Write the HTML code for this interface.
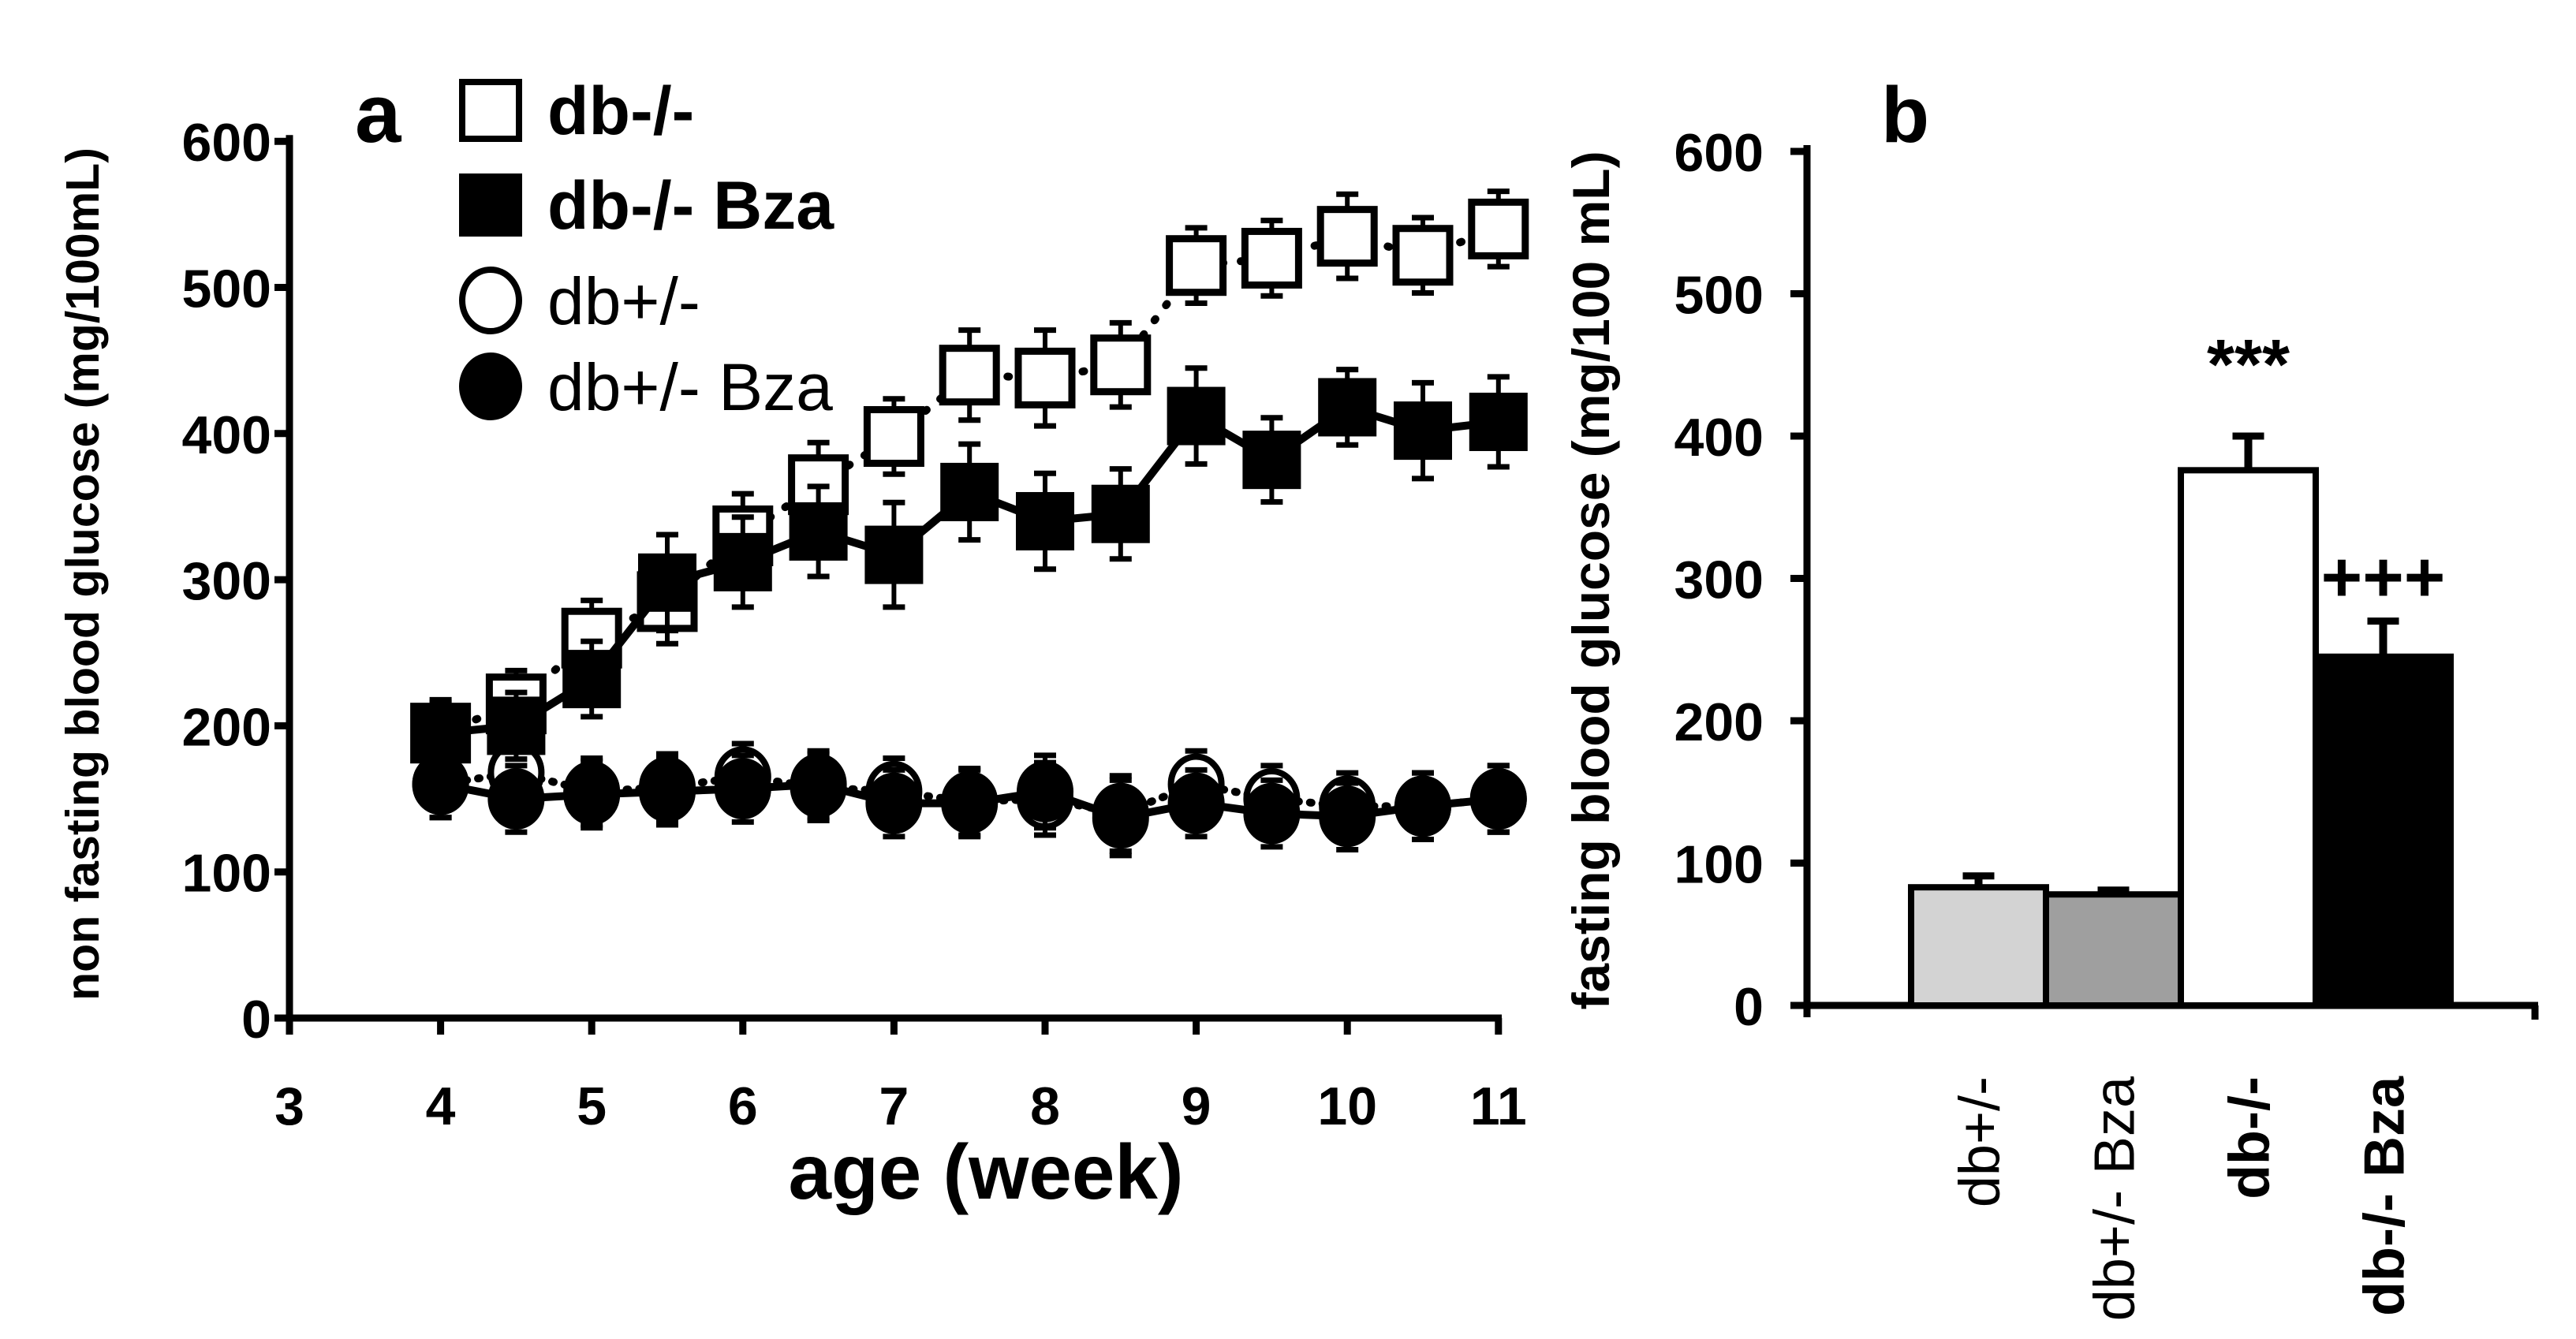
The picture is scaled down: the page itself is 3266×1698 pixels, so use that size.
<!DOCTYPE html>
<html><head><meta charset="utf-8"><style>
html,body{margin:0;padding:0;background:#fff;}
svg{display:block;font-family:"Liberation Sans",Arial,sans-serif;}
</style></head><body>
<svg id="fig" width="3266" height="1698" viewBox="0 0 3266 1698">
<g id="pa"></g>
<g id="pb"></g>
</svg>
<script>
const weeks = [4,4.5,5,5.5,6,6.5,7,7.5,8,8.5,9,9.5,10,10.5,11];
const dbKO = [195,215,260,285,330,365,398,440,438,447,515,520,535,522,540];
const dbKOBza = [195,200,232,298,312,333,317,360,340,345,412,382,418,402,408];
const dbHet = [160,168,155,158,165,158,155,148,150,140,160,150,145,145,150];
const dbHetBza = [160,150,153,155,157,160,147,147,155,137,147,140,138,145,150];
const errKO = [10,12,15,18,18,18,15,20,22,18,15,15,18,15,15];
const errKOBza = [12,12,15,22,20,20,25,22,22,20,22,18,15,22,20];
const errHet = [12,12,12,12,12,12,12,12,14,15,12,12,12,12,12];
const xTicks = [3,4,5,6,7,8,9,10,11];
const yTicks = [0,100,200,300,400,500,600];
const barCats = ["db+/-","db+/- Bza","db-/-","db-/- Bza"];
const barVals = [83,78,376,245];
const barErr = [8,3,24,25];
const barSig = ["","","***","+++"];

const NS="http://www.w3.org/2000/svg";
function mk(parent,tag,attrs){const e=document.createElementNS(NS,tag);for(const k in attrs)e.setAttribute(k,attrs[k]);parent.appendChild(e);return e;}

// Panel a
const pa=document.getElementById('pa');
const ax=v=>367+(v-3)*191.6, ay=v=>1291-v*1.853;
let l=mk(pa,'line',{x1:367,y1:ay(600)-8,x2:367,y2:1295,stroke:'#000','stroke-width':9});


l=mk(pa,'line',{x1:363,y1:1291,x2:1904,y2:1291,stroke:'#000','stroke-width':9});


yTicks.forEach(v=>{
 let tk=mk(pa,'line',{x1:348,y1:ay(v),x2:367,y2:ay(v),stroke:'#000','stroke-width':9});
 
 
 let tx=mk(pa,'text',{x:344,y:ay(v)+25,'text-anchor':'end','font-size':68,'font-weight':'bold'});
 tx.textContent=v;
 
 
});
xTicks.forEach(v=>{
 let tk=mk(pa,'line',{x1:ax(v),y1:1291,x2:ax(v),y2:1312,stroke:'#000','stroke-width':9});
 
 
 let tx=mk(pa,'text',{x:ax(v),y:1426,'text-anchor':'middle','font-size':68,'font-weight':'bold'});
 tx.textContent=v;
 
 
});
function series(vals,errs,filled,shape,dash,name){
 const g=mk(pa,'g',{});
 
 
 const pts=weeks.map((w,i)=>ax(w)+','+ay(vals[i])).join(' ');
 mk(g,'polyline',{points:pts,fill:'none',stroke:'#000','stroke-width':10,'stroke-dasharray':dash,'stroke-linecap':'round'});
 weeks.forEach((w,i)=>{
  const x=ax(w),y=ay(vals[i]),e=errs[i]*1.853;
  mk(g,'line',{x1:x,y1:y-e-20,x2:x,y2:y+e+20,stroke:'#000','stroke-width':6});
  mk(g,'line',{x1:x-14,y1:y-e-20,x2:x+14,y2:y-e-20,stroke:'#000','stroke-width':7});
  mk(g,'line',{x1:x-14,y1:y+e+20,x2:x+14,y2:y+e+20,stroke:'#000','stroke-width':7});
  let m;
  if(shape==='sq') m=mk(g,'rect',{x:x-34,y:y-34,width:68,height:68,fill:filled?'#000':'#fff',stroke:'#000','stroke-width':filled?6:9});
  else m=mk(g,'ellipse',{cx:x,cy:y,rx:32,ry:35,fill:filled?'#000':'#fff',stroke:'#000','stroke-width':8});
  
  
 });
}
series(dbHet,errHet,false,'ci','2 14','series-db-het');
series(dbHetBza,errHet,true,'ci','none','series-db-het-bza');
series(dbKO,errKO,false,'sq','2 22','series-db-ko');
series(dbKOBza,errKOBza,true,'sq','none','series-db-ko-bza');

// legend
const legend=[["db-/-","sq",false,true,140],["db-/- Bza","sq",true,true,260],["db+/-","ci",false,false,381],["db+/- Bza","ci",true,false,490]];
legend.forEach(r=>{
 const g=mk(pa,'g',{});
 
 
 if(r[1]==='sq') mk(g,'rect',{x:586,y:r[4]-36,width:72,height:72,fill:r[2]?'#000':'#fff',stroke:'#000','stroke-width':8});
 else mk(g,'ellipse',{cx:622,cy:r[4],rx:36,ry:39,fill:r[2]?'#000':'#fff',stroke:'#000','stroke-width':8});
 const tt=mk(g,'text',{x:694,y:r[4]+30,'font-size':r[3]?86:84,'font-weight':r[3]?'bold':'normal'});
 tt.textContent=r[0];
});
let t=mk(pa,'text',{x:450,y:180,'font-size':105,'font-weight':'bold'});t.textContent='a';


t=mk(pa,'text',{x:1250,y:1520,'text-anchor':'middle','font-size':98,'font-weight':'bold'});t.textContent='age (week)';


t=mk(pa,'text',{x:0,y:0,'text-anchor':'middle','font-size':59,'font-weight':'bold',transform:'translate(125,728) rotate(-90)'});t.textContent='non fasting blood glucose (mg/100mL)';



// Panel b
const pb=document.getElementById('pb');
const by=v=>1275-v*1.805;
const bx0=2423,bw=171;
const fills=['#d3d3d3','#9f9f9f','#fff','#000'];
l=mk(pb,'line',{x1:2291,y1:by(600)-8,x2:2291,y2:1290,stroke:'#000','stroke-width':9});


l=mk(pb,'line',{x1:2270,y1:1275,x2:3218,y2:1275,stroke:'#000','stroke-width':9});


l=mk(pb,'line',{x1:3214,y1:1275,x2:3214,y2:1293,stroke:'#000','stroke-width':9});


yTicks.forEach(v=>{
 let tk=mk(pb,'line',{x1:2270,y1:by(v),x2:2291,y2:by(v),stroke:'#000','stroke-width':9});
 
 
 let tx=mk(pb,'text',{x:2236,y:by(v)+25,'text-anchor':'end','font-size':68,'font-weight':'bold'});
 tx.textContent=v;
 
 
});
barCats.forEach((c,i)=>{
 const x=bx0+i*bw,y=by(barVals[i]),e=barErr[i]*1.805;
 const el=mk(pb,'line',{x1:x+bw/2,y1:y-e,x2:x+bw/2,y2:y,stroke:'#000','stroke-width':10});
 
 
 const ec=mk(pb,'line',{x1:x+bw/2-20,y1:y-e,x2:x+bw/2+20,y2:y-e,stroke:'#000','stroke-width':9});
 
 
 const r=mk(pb,'rect',{x:x,y:y,width:bw,height:1275-y,fill:fills[i],stroke:'#000','stroke-width':8});
 
 
 const lb=mk(pb,'text',{x:0,y:0,'text-anchor':'end','font-size':72,'font-weight':i>=2?'bold':'normal',transform:'translate('+(x+bw/2+26)+',1365) rotate(-90)'});
 lb.textContent=c;
 
 
 if(barSig[i]){
  const s=mk(pb,'text',{x:x+bw/2,y:y-e-(i===2?60:25),'text-anchor':'middle','font-size':90,'font-weight':'bold'});
  s.textContent=barSig[i];
  
  
 }
});
t=mk(pb,'text',{x:2385,y:180,'font-size':100,'font-weight':'bold'});t.textContent='b';


t=mk(pb,'text',{x:0,y:0,'text-anchor':'middle','font-size':66,'font-weight':'bold',transform:'translate(2040,736) rotate(-90)'});t.textContent='fasting blood glucose (mg/100 mL)';


</script>
</body></html>
